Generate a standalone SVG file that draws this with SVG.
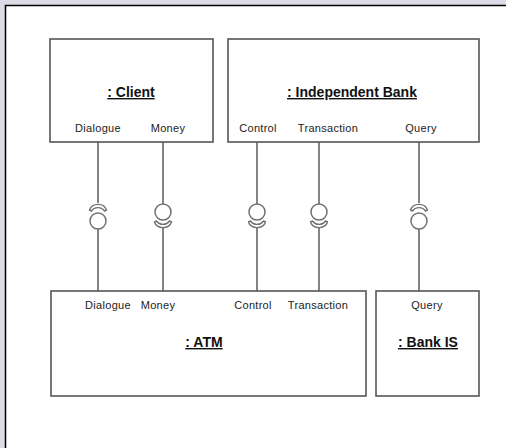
<svg xmlns="http://www.w3.org/2000/svg" width="506" height="448" viewBox="0 0 506 448">
  <style>
    .box { fill: #ffffff; stroke: #555555; stroke-width: 1.6; }
    .title { font-family: "Liberation Sans", Arial, sans-serif; font-size: 14px; font-weight: bold; text-anchor: middle; fill: #111111; text-decoration: underline; }
    .port { font-family: "Liberation Sans", Arial, sans-serif; font-size: 11px; letter-spacing: 0.3px; text-anchor: middle; fill: #222222; }
    .wire { stroke: #333333; stroke-width: 1.2; fill: none; }
    .ball { fill: #ffffff; stroke: #707070; stroke-width: 1.5; }
    .socket { fill: #ffffff; stroke: #707070; stroke-width: 1.4; stroke-linejoin: round; }
  </style>
  <defs>
    <!-- required-interface socket, opening downward -->
    <path id="socketDown" class="socket" d="M -8.5 4 C -6 -3.5 6 -3.5 8.5 4 L 6.5 5 C 3.5 0.5 -3.5 0.5 -6.5 5 Z"/>
    <!-- required-interface socket, opening upward -->
    <path id="socketUp" class="socket" d="M -8.5 -4 C -6 3.5 6 3.5 8.5 -4 L 6.5 -5 C 3.5 -0.5 -3.5 -0.5 -6.5 -5 Z"/>
  </defs>

  <!-- page background and frame -->
  <rect x="0" y="0" width="506" height="448" fill="#dcdce8"/>
  <rect x="5" y="5" width="501" height="443" fill="#ffffff"/>
  <path d="M 5.5 448 L 5.5 5.5 L 506 5.5" stroke="#000000" stroke-width="1.5" fill="none"/>

  <!-- connectors -->
  <g id="connectors">
    <!-- Dialogue -->
    <line class="wire" x1="98" y1="142" x2="98" y2="203"/>
    <line class="wire" x1="98" y1="228" x2="98" y2="291"/>
    <use href="#socketDown" x="98" y="206"/>
    <circle class="ball" cx="98" cy="221" r="8"/>
    <!-- Money -->
    <line class="wire" x1="163" y1="142" x2="163" y2="204"/>
    <line class="wire" x1="163" y1="228" x2="163" y2="291"/>
    <circle class="ball" cx="163" cy="212" r="8"/>
    <use href="#socketUp" x="163" y="226"/>
    <!-- Control -->
    <line class="wire" x1="257" y1="142" x2="257" y2="204"/>
    <line class="wire" x1="257" y1="228" x2="257" y2="291"/>
    <circle class="ball" cx="257" cy="212" r="8"/>
    <use href="#socketUp" x="257" y="226"/>
    <!-- Transaction -->
    <line class="wire" x1="319" y1="142" x2="319" y2="204"/>
    <line class="wire" x1="319" y1="228" x2="319" y2="291"/>
    <circle class="ball" cx="319" cy="212" r="8"/>
    <use href="#socketUp" x="319" y="226"/>
    <!-- Query -->
    <line class="wire" x1="419" y1="142" x2="419" y2="203"/>
    <line class="wire" x1="419" y1="228" x2="419" y2="291"/>
    <use href="#socketDown" x="419" y="206"/>
    <circle class="ball" cx="419" cy="221" r="8"/>
  </g>

  <g id="client">
    <rect class="box" x="50" y="39" width="163" height="103"/>
    <text class="title" x="131" y="97">: Client</text>
    <text class="port" x="98" y="132">Dialogue</text>
    <text class="port" x="168" y="132">Money</text>
  </g>

  <g id="independent-bank">
    <rect class="box" x="228" y="39" width="251" height="103"/>
    <text class="title" x="352" y="97">: Independent Bank</text>
    <text class="port" x="258" y="132">Control</text>
    <text class="port" x="328" y="132">Transaction</text>
    <text class="port" x="421" y="132">Query</text>
  </g>

  <g id="atm">
    <rect class="box" x="51" y="291" width="315" height="105"/>
    <text class="title" x="204" y="347">: ATM</text>
    <text class="port" x="108" y="309">Dialogue</text>
    <text class="port" x="158" y="309">Money</text>
    <text class="port" x="253" y="309">Control</text>
    <text class="port" x="318" y="309">Transaction</text>
  </g>

  <g id="bank-is">
    <rect class="box" x="376" y="291" width="103" height="105"/>
    <text class="title" x="428" y="347">: Bank IS</text>
    <text class="port" x="427" y="309">Query</text>
  </g>
</svg>
